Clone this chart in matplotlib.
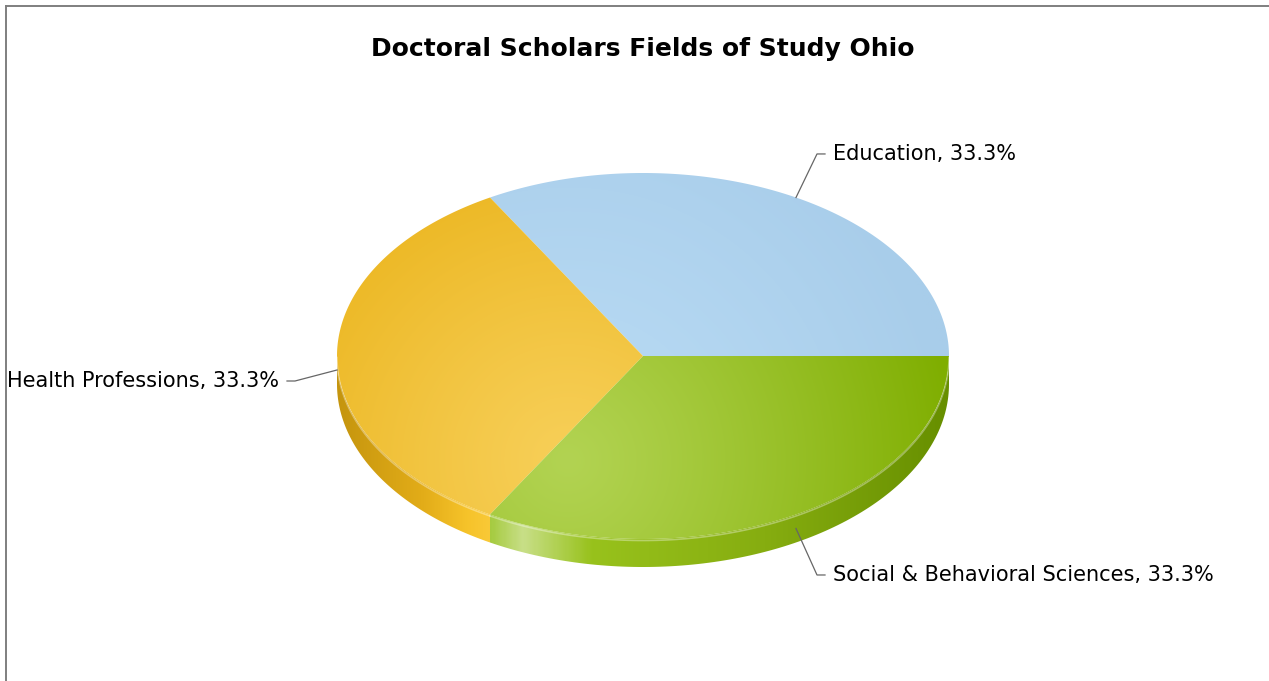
import numpy as np
import matplotlib.pyplot as plt
from matplotlib.patches import Polygon
from matplotlib.colors import LinearSegmentedColormap, to_rgb

# slices in counter-clockwise order starting at 3 o'clock
labels = ['Education', 'Health Professions', 'Social & Behavioral Sciences']
values = [1, 1, 1]
title = 'Doctoral Scholars Fields of Study Ohio'

top_light = ['#badcf5', '#f7cf58', '#b2d352']
top_dark = ['#a8cdea', '#e8af10', '#7fae00']
side_stops = [
    [(0.0, '#8fb3cf'), (1.0, '#8fb3cf')],
    [(0.0, '#c5950e'), (0.55, '#e2ac18'), (0.85, '#f6c32a'), (1.0, '#f9c937')],
    [(0.0, '#a6cb40'), (0.07, '#c8df88'), (0.22, '#98c21c'), (0.6, '#86ad10'), (1.0, '#678f00')],
]

W, H = 1269, 681
cx, cy, rx, ry, depth = 643, 356, 306, 183, 28

fig = plt.figure(figsize=(W / 100, H / 100), dpi=100)
ax = fig.add_axes([0, 0, 1, 1])
ax.set_xlim(0, W)
ax.set_ylim(H, 0)
ax.axis('off')

# frame
ax.plot([6, W], [6, 6], color='#7f7f7f', lw=1.4)
ax.plot([6, 6], [6, H], color='#7f7f7f', lw=1.4)

ax.text(cx, 49, title, ha='center', va='center', fontsize=18, fontweight='bold', color='black')


def ell(a, dy=0):
    a = np.radians(a)
    return cx + rx * np.cos(a), cy - ry * np.sin(a) + dy


def grad_fill(poly, img, extent):
    patch = Polygon(poly, closed=True, facecolor='none', edgecolor='none')
    ax.add_patch(patch)
    im = ax.imshow(img, extent=extent, origin='upper', interpolation='bilinear', zorder=2, aspect='auto')
    im.set_clip_path(patch)


total = sum(values)
angles = np.cumsum([0] + [v / total * 360 for v in values])

# grid for gradients
gx = np.linspace(cx - rx, cx + rx, 400)
gy = np.linspace(cy - ry, cy + ry + depth, 260)
GX, GY = np.meshgrid(gx, gy)
ext = [gx[0], gx[-1], gy[-1], gy[0]]

for i, lab in enumerate(labels):
    a1, a2 = angles[i], angles[i + 1]

    # side face (front half only)
    s1, s2 = max(a1, 180), min(a2, 360)
    if s2 > s1:
        t = np.linspace(s1, s2, 120)
        xs, ys = ell(t)
        xb, yb = ell(t[::-1], depth)
        poly = np.column_stack([np.r_[xs, xb], np.r_[ys, yb]])
        xl, xr = ell(s1)[0], ell(s2)[0]
        cmap = LinearSegmentedColormap.from_list('s%d' % i, side_stops[i])
        frac = np.clip((GX - xl) / (xr - xl), 0, 1)
        grad_fill(poly, cmap(frac), ext)
        ax.plot(xs, ys + 1.5, color='white', alpha=0.35, lw=1.2, zorder=3)

    # top face, radial light from lower left of centre
    t = np.linspace(a1, a2, 200)
    xs, ys = ell(t)
    poly = np.column_stack([np.r_[cx, xs], np.r_[cy, ys]])
    d = np.hypot(GX - (cx - 75), GY - (cy + 105)) / 390
    d = np.clip(d, 0, 1) ** 1.15
    c1, c2 = np.array(to_rgb(top_light[i])), np.array(to_rgb(top_dark[i]))
    img = c1 + (c2 - c1) * d[..., None]
    grad_fill(poly, img, ext)

    # label with leader line
    mid = (a1 + a2) / 2
    s, c = np.sin(np.radians(mid)), np.cos(np.radians(mid))
    ax0, ay0 = ell(mid, depth / 2 if s <= 1e-9 else 0)
    ex = ax0 + 42 * c
    ey = ay0 - 52 * s + 11 * (1 - abs(s))
    side = 1 if c >= -1e-9 else -1
    ax.plot([ax0, ex, ex + 8 * side], [ay0, ey, ey], color='#666666', lw=0.9, zorder=4)
    pct = values[i] / total * 100
    ax.text(ex + 16 * side, ey, '%s, %.1f%%' % (lab, pct), ha='left' if side > 0 else 'right',
            va='center', fontsize=15, color='black')

fig.savefig('out.png', dpi=100)
